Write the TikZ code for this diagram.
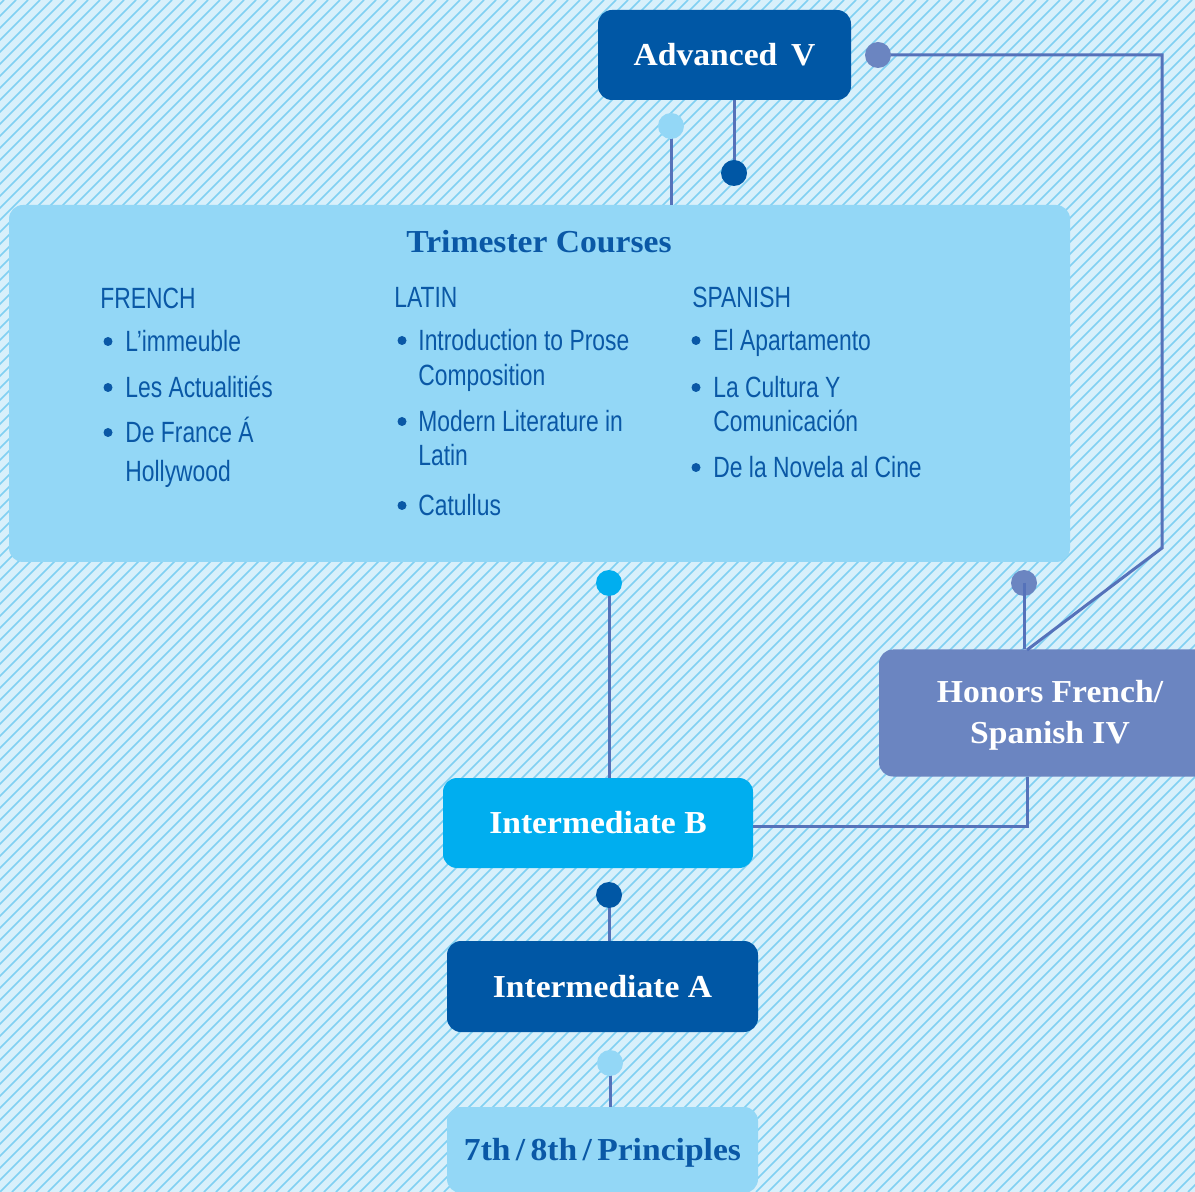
\documentclass[tikz,border=0pt]{standalone}
\usepackage{fontspec}
\setmainfont{Liberation Serif}[FakeStretch=1.05]
\newfontfamily\condfont{Liberation Sans}[FakeStretch=0.78]
\definecolor{bgc}{HTML}{D8F0FB}
\definecolor{hatchc}{HTML}{80D0F2}
\definecolor{dblue}{HTML}{0057A5}
\definecolor{cyanb}{HTML}{00AEEF}
\definecolor{lblue}{HTML}{93D7F6}
\definecolor{purp}{HTML}{6B85C1}
\definecolor{linec}{HTML}{5572BA}
\definecolor{txt}{HTML}{0A58A6}
\begin{document}
\begin{tikzpicture}[x=0.5pt,y=-0.5pt,
  hatch/.style={draw=hatchc, line width=0.75pt},
  box/.style={rectangle, rounded corners=7pt, inner sep=0pt,
    font=\fontsize{16}{20}\selectfont\bfseries, text height=10.6pt, text depth=0pt},
  title/.style={font=\fontsize{16}{20}\selectfont\bfseries, inner sep=0pt, anchor=base},
  body/.style={font=\condfont\fontsize{14.65}{17.5}\selectfont, text=txt, inner sep=0pt, anchor=base west},
  bul/.style={circle, fill=txt, minimum size=4.5pt, inner sep=0pt},
  dot/.style={circle, minimum size=13pt, inner sep=0pt},
  conn/.style={draw=linec, line width=1.5pt}]
\useasboundingbox (0,0) rectangle (1195,1192);
\clip (0,0) rectangle (1195,1192);
\fill[bgc] (0,0) rectangle (1195,1192);
\foreach \a in {-1200,-1188,...,1200} \draw[hatch] (\a,1192) -- ++(1192,-1192);

% boxes
\node[box, fill=dblue, text=white, minimum width=126.5pt, minimum height=45pt] (adv) at (724.5,55) {Advanced\, V};
\node[box, fill=lblue, minimum width=530.5pt, minimum height=178.5pt] (trim) at (539.5,383.5) {};
\node[box, fill=purp, minimum width=171pt, minimum height=63.5pt] (hon) at (1050,713) {};
\node[box, fill=cyanb, text=white, minimum width=155pt, minimum height=45pt] (intB) at (598,823) {Intermediate B};
\node[box, fill=dblue, text=white, minimum width=155.5pt, minimum height=45.5pt] (intA) at (602.5,986.5) {Intermediate A};
\node[box, fill=lblue, text=txt, minimum width=155.5pt, minimum height=43pt] (prin) at (602.5,1150) {7th\,/\,8th\,/\,Principles};

% box texts
\node[title, text=txt] (trimt) at (539,253) {Trimester Courses};
\node[title, text=white] (hon1) at (1050,703) {Honors French/};
\node[title, text=white] (hon2) at (1050,743) {Spanish IV};

% French
\node[body] (frh) at (100,309) {FRENCH};
\node[bul] (fb1) at (108,341.5) {};
\node[body] (f1) at (125,352) {L’immeuble};
\node[bul] (fb2) at (108,387.5) {};
\node[body] (f2) at (125,398) {Les Actualitiés};
\node[bul] (fb3) at (108,432.5) {};
\node[body] (f3) at (125,443) {De France Á};
\node[body] (f3b) at (125,482) {Hollywood};

% Latin
\node[body] (lah) at (394,308) {LATIN};
\node[bul] (lb1) at (402,340.5) {};
\node[body] (l1) at (418,351) {Introduction to Prose};
\node[body] (l1b) at (418,386) {Composition};
\node[bul] (lb2) at (402,421.5) {};
\node[body] (l2) at (418,432) {Modern Literature in};
\node[body] (l2b) at (418,466) {Latin};
\node[bul] (lb3) at (402,505.5) {};
\node[body] (l3) at (418,516) {Catullus};

% Spanish
\node[body] (sph) at (692,308) {SPANISH};
\node[bul] (sb1) at (696,340.5) {};
\node[body] (s1) at (713,351) {El Apartamento};
\node[bul] (sb2) at (696,387.5) {};
\node[body] (s2) at (713,398) {La Cultura Y};
\node[body] (s2b) at (713,432) {Comunicación};
\node[bul] (sb3) at (696,467.5) {};
\node[body] (s3) at (713,478) {De la Novela al Cine};

% dot positions
\coordinate (pL) at (671,126);
\coordinate (pA) at (734,173);
\coordinate (pP) at (878,55);
\coordinate (pH) at (1024,583);
\coordinate (pC) at (609,583);
\coordinate (pD) at (609,895);
\coordinate (pE) at (610,1063);
\coordinate (c1) at (1162,55);
\coordinate (c2) at (1162,548);
\coordinate (c3) at (1027,650);
\coordinate (c4) at (1027,826);

% connectors
\draw[conn] (pL) -- (pL |- trim.north);
\draw[conn] (pA |- adv.south) -- (pA);
\draw[conn] (pP) -- (c1) -- (c2) -- (c3);
\draw[conn] (pC) -- (pC |- intB.north);
\draw[conn] (intB.east |- c4) -- (c4) -- (c4 |- hon.south);
\draw[conn] (pD) -- (pD |- intA.north);
\draw[conn] (pE) -- (pE |- prin.north);

% dots
\node[dot, fill=lblue] (dL) at (pL) {};
\node[dot, fill=dblue] (dA) at (pA) {};
\node[dot, fill=purp] (dP) at (pP) {};
\node[dot, fill=purp] (dH) at (pH) {};
\node[dot, fill=cyanb] (dC) at (pC) {};
\node[dot, fill=dblue] (dD) at (pD) {};
\node[dot, fill=lblue] (dE) at (pE) {};
\draw[conn] (dH.center) -- (dH.center |- hon.north);
\end{tikzpicture}
\end{document}
